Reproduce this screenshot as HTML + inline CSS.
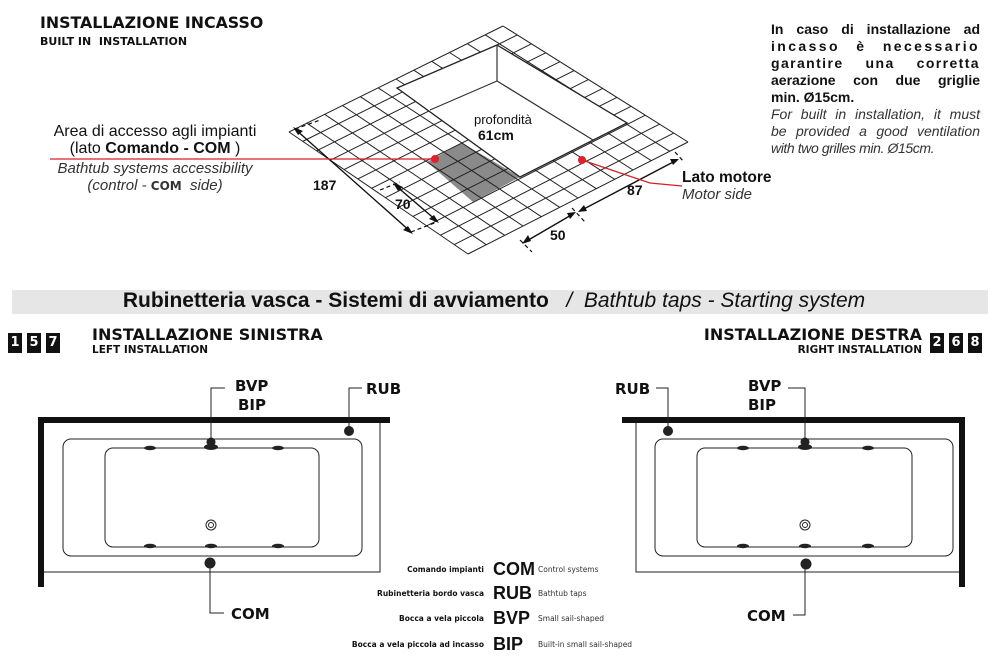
<!DOCTYPE html>
<html><head><meta charset="utf-8">
<style>
body{margin:0;background:#fff;}
#w{position:relative;width:1000px;height:664px;overflow:hidden;font-family:"Liberation Sans",Arial,sans-serif;color:#111;}
.a{position:absolute;white-space:nowrap;}
.dj{font-family:"DejaVu Sans",sans-serif;font-weight:bold;}
.j{position:absolute;left:771px;width:209px;text-align:justify;text-align-last:justify;white-space:nowrap;font-size:14px;line-height:17px;}
.box{position:absolute;width:14px;height:20px;background:#111;color:#fff;font-family:"DejaVu Sans",sans-serif;font-weight:bold;font-size:13px;text-align:center;line-height:20px;}
.lg{position:absolute;font-family:"DejaVu Sans",sans-serif;font-size:7.5px;white-space:nowrap;}
</style></head><body><div id="w">
<svg id="s" width="1000" height="664" style="position:absolute;left:0;top:0">
<polygon points="427,162 462,143 520,177 473,202" fill="#8a8a8a"/>
<g id="grid" stroke="#222" stroke-width="1" fill="none"></g>
<polygon points="497,45 397,88 520,177 627,123" fill="#fff" stroke="#222" stroke-width="1.3"/>
<g stroke="#333" stroke-width="1.2" fill="none">
<line x1="497" y1="45" x2="497" y2="81"/>
<line x1="497" y1="81" x2="430" y2="110"/>
<line x1="497" y1="81" x2="593" y2="140"/>
</g>
<g stroke="#111" stroke-width="1.4" fill="none">
<line x1="295" y1="129" x2="411" y2="232"/>
<line x1="395" y1="185" x2="437" y2="221"/>
<line x1="525" y1="242" x2="573" y2="214"/>
<line x1="580" y1="211" x2="677" y2="160"/>
</g>
<g stroke="#111" stroke-width="1.2" stroke-dasharray="4,3" fill="none">
<line x1="295" y1="129" x2="320" y2="120"/>
<line x1="411" y1="232" x2="437" y2="222"/>
<line x1="380" y1="190" x2="400" y2="182"/>
<line x1="520" y1="240" x2="532" y2="252"/>
<line x1="572" y1="208" x2="585" y2="222"/>
<line x1="675" y1="152" x2="684" y2="162"/>
</g>
<g fill="#111">
<polygon points="293,127 303,131 298,135"/>
<polygon points="413,234 403,230 408,226"/>
<polygon points="393,183 403,187 398,191"/>
<polygon points="439,223 429,219 434,215"/>
<polygon points="522,244 528,235 531,241"/>
<polygon points="576,212 567,213 570,219"/>
<polygon points="578,212 584,205 587,211"/>
<polygon points="679,159 670,159 673,165"/>
</g>
<g stroke="#d0202a" stroke-width="1.3" fill="none">
<line x1="50" y1="159" x2="435" y2="159"/>
<polyline points="582,160 650,183 682,186"/>
</g>
<circle cx="435" cy="159" r="4" fill="#e0202a"/>
<circle cx="582" cy="160" r="4" fill="#e0202a"/>
<rect x="12" y="290" width="976" height="24" fill="#e6e6e6"/>
<g fill="#111">
<rect x="38" y="417" width="352" height="6"/>
<rect x="38" y="417" width="6" height="170"/>
</g>
<g stroke="#222" stroke-width="1" fill="none">
<polyline points="44,572 380,572 380,423"/>
<rect x="63" y="439" width="299" height="117" rx="8"/>
<rect x="105" y="448" width="214" height="99" rx="8"/>
<circle cx="211" cy="525" r="5"/><circle cx="211" cy="525" r="2.5"/>
<polyline points="211,441 211,388 225,388"/>
<polyline points="349,431 349,388 362,388"/>
<polyline points="210,563 210,613 224,613"/>
</g>
<g fill="#222">
<ellipse cx="150" cy="448" rx="6" ry="2.2"/><ellipse cx="278" cy="448" rx="6" ry="2.2"/>
<ellipse cx="150" cy="546" rx="6" ry="2.2"/><ellipse cx="211" cy="546" rx="6" ry="2.2"/><ellipse cx="278" cy="546" rx="6" ry="2.2"/>
<ellipse cx="211" cy="447" rx="7" ry="3"/><circle cx="211" cy="442" r="4.5"/>
<circle cx="349" cy="431" r="5"/><circle cx="210" cy="563" r="5.5"/>
</g>
<g fill="#111">
<rect x="622" y="417" width="343" height="6"/>
<rect x="959" y="417" width="6" height="170"/>
</g>
<g stroke="#222" stroke-width="1" fill="none">
<polyline points="636,423 636,572 959,572"/>
<rect x="655" y="439" width="298" height="117" rx="8"/>
<rect x="697" y="448" width="215" height="99" rx="8"/>
<circle cx="805" cy="525" r="5"/><circle cx="805" cy="525" r="2.5"/>
<polyline points="805,441 805,388 788,388"/>
<polyline points="668,431 668,388 656,388"/>
<polyline points="805,563 805,615 793,615"/>
</g>
<g fill="#222">
<ellipse cx="743" cy="448" rx="6" ry="2.2"/><ellipse cx="868" cy="448" rx="6" ry="2.2"/>
<ellipse cx="743" cy="546" rx="6" ry="2.2"/><ellipse cx="805" cy="546" rx="6" ry="2.2"/><ellipse cx="868" cy="546" rx="6" ry="2.2"/>
<ellipse cx="805" cy="447" rx="7" ry="3"/><circle cx="805" cy="442" r="4.5"/>
<circle cx="668" cy="431" r="5"/><circle cx="806" cy="564" r="5.5"/>
</g>
</svg>
<script>
(function(){
var A=[503,26],B=[289,132],C=[468,254],D=[688,142],N=12,M=13,g=document.getElementById('grid'),s='';
function L(p,q,t){return [p[0]+(q[0]-p[0])*t,p[1]+(q[1]-p[1])*t];}
for(var i=0;i<=N;i++){var p=L(A,B,i/N),q=L(D,C,i/N);s+='<line x1="'+p[0]+'" y1="'+p[1]+'" x2="'+q[0]+'" y2="'+q[1]+'"/>';}
for(var j=0;j<=M;j++){var p=L(A,D,j/M),q=L(B,C,j/M);s+='<line x1="'+p[0]+'" y1="'+p[1]+'" x2="'+q[0]+'" y2="'+q[1]+'"/>';}
g.innerHTML=s;
})();
</script>

<div class="a dj" style="left:40px;top:13px;font-size:15.8px;">INSTALLAZIONE INCASSO</div>
<div class="a dj" style="left:40px;top:35px;font-size:11px;">BUILT IN &nbsp;INSTALLATION</div>

<div class="a" style="left:40px;top:123px;width:230px;text-align:center;font-size:16px;">Area di accesso agli impianti</div>
<div class="a" style="left:40px;top:140px;width:230px;text-align:center;font-size:16px;">(lato <b>Comando - COM</b> )</div>
<div class="a" style="left:40px;top:160px;width:230px;text-align:center;font-size:15px;font-style:italic;color:#333;">Bathtub systems accessibility</div>
<div class="a" style="left:40px;top:177px;width:230px;text-align:center;font-size:15px;font-style:italic;color:#333;">(control - <span class="dj" style="font-style:normal;font-size:12px;">COM</span> &nbsp;side)</div>

<div class="a" style="left:474px;top:112px;font-size:13px;">profondità</div>
<div class="a" style="left:478px;top:127px;font-size:14px;font-weight:bold;">61cm</div>
<div class="a" style="left:313px;top:177px;font-size:14px;font-weight:bold;">187</div>
<div class="a" style="left:395px;top:196px;font-size:14px;font-weight:bold;">70</div>
<div class="a" style="left:550px;top:227px;font-size:14px;font-weight:bold;">50</div>
<div class="a" style="left:627px;top:182px;font-size:14px;font-weight:bold;">87</div>
<div class="a" style="left:682px;top:169px;font-size:15.5px;font-weight:bold;">Lato motore</div>
<div class="a" style="left:682px;top:186px;font-size:15px;font-style:italic;color:#333;">Motor side</div>

<div class="j" style="top:21px;font-weight:bold;">In caso di installazione ad</div>
<div class="j" style="top:38px;font-weight:bold;letter-spacing:2.4px;">incasso è necessario</div>
<div class="j" style="top:55px;font-weight:bold;letter-spacing:1.4px;">garantire una corretta</div>
<div class="j" style="top:72px;font-weight:bold;">aerazione con due griglie</div>
<div class="a" style="left:771px;top:89px;font-size:14px;font-weight:bold;">min. Ø15cm.</div>
<div class="j" style="top:106px;font-style:italic;color:#333;">For built in installation, it must</div>
<div class="j" style="top:123px;font-style:italic;color:#333;">be provided a good ventilation</div>
<div class="a" style="left:771px;top:140px;font-size:14px;font-style:italic;color:#333;letter-spacing:-0.4px;">with two grilles min. Ø15cm.</div>

<div class="a" style="left:-6px;top:289px;width:1000px;text-align:center;font-size:21px;">
<span style="font-weight:bold;">Rubinetteria vasca - Sistemi di avviamento</span> &nbsp;&nbsp;<i>/ &nbsp;Bathtub taps - Starting system</i></div>

<div class="box" style="left:8px;top:333px;">1</div>
<div class="box" style="left:27px;top:333px;">5</div>
<div class="box" style="left:46px;top:333px;">7</div>
<div class="a dj" style="left:92px;top:325px;font-size:16px;">INSTALLAZIONE SINISTRA</div>
<div class="a dj" style="left:92px;top:344px;font-size:10.5px;">LEFT INSTALLATION</div>
<div class="a dj" style="right:78px;top:325px;font-size:16px;">INSTALLAZIONE DESTRA</div>
<div class="a dj" style="right:78px;top:344px;font-size:10.5px;">RIGHT INSTALLATION</div>
<div class="box" style="left:930px;top:333px;">2</div>
<div class="box" style="left:949px;top:333px;">6</div>
<div class="box" style="left:968px;top:333px;">8</div>

<div class="a dj" style="left:235px;top:377px;font-size:15px;">BVP</div>
<div class="a dj" style="left:238px;top:396px;font-size:15px;">BIP</div>
<div class="a dj" style="left:366px;top:380px;font-size:15px;">RUB</div>
<div class="a dj" style="left:231px;top:605px;font-size:15px;">COM</div>

<div class="a dj" style="left:748px;top:377px;font-size:15px;">BVP</div>
<div class="a dj" style="left:748px;top:396px;font-size:15px;">BIP</div>
<div class="a dj" style="left:615px;top:380px;font-size:15px;">RUB</div>
<div class="a dj" style="left:747px;top:607px;font-size:15px;">COM</div>

<div class="lg" style="right:516px;top:565px;font-weight:bold;">Comando impianti</div>
<div class="a" style="left:493px;top:559px;font-size:18px;font-weight:bold;">COM</div>
<div class="lg" style="left:538px;top:565px;color:#333;">Control systems</div>
<div class="lg" style="right:516px;top:589px;font-weight:bold;">Rubinetteria bordo vasca</div>
<div class="a" style="left:493px;top:583px;font-size:18px;font-weight:bold;">RUB</div>
<div class="lg" style="left:538px;top:589px;color:#333;">Bathtub taps</div>
<div class="lg" style="right:516px;top:614px;font-weight:bold;">Bocca a vela piccola</div>
<div class="a" style="left:493px;top:608px;font-size:18px;font-weight:bold;">BVP</div>
<div class="lg" style="left:538px;top:614px;color:#333;">Small sail-shaped</div>
<div class="lg" style="right:516px;top:640px;font-weight:bold;">Bocca a vela piccola ad incasso</div>
<div class="a" style="left:493px;top:634px;font-size:18px;font-weight:bold;">BIP</div>
<div class="lg" style="left:538px;top:640px;color:#333;">Built-in small sail-shaped</div>
</div></body></html>
